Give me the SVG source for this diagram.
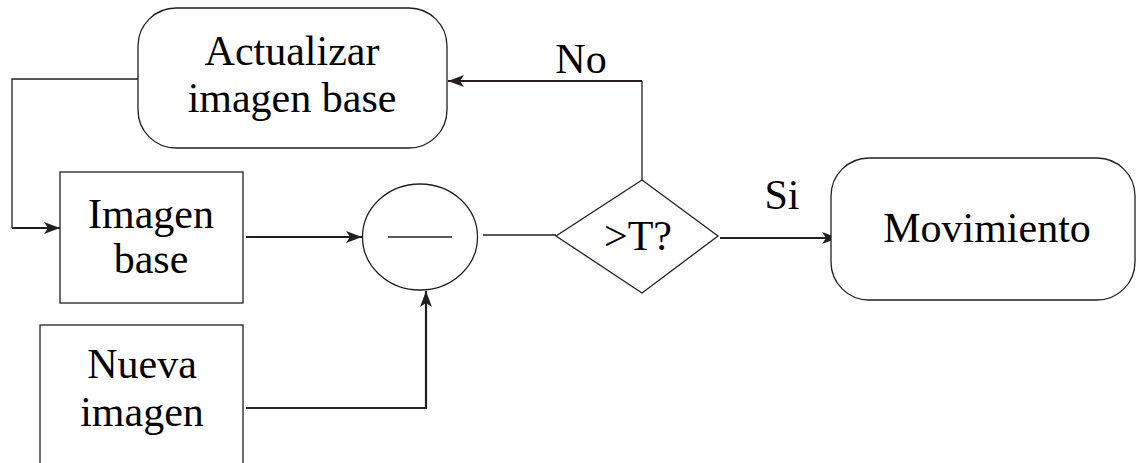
<svg xmlns="http://www.w3.org/2000/svg" width="1136" height="463" viewBox="0 0 1136 463">
<style>
.box{fill:#fff;stroke:#231f20;stroke-width:1.3}
.t{font-family:"Liberation Serif","Times New Roman",serif;font-size:42px;fill:#000;text-anchor:middle}
.c{fill:none;stroke:#231f20;stroke-width:2.2}
.thin{fill:none;stroke:#231f20;stroke-width:1.3}
</style>
<defs>
<marker id="ah" viewBox="0 0 16 12" refX="16" refY="6" markerWidth="16" markerHeight="12" markerUnits="userSpaceOnUse" orient="auto">
<path d="M0,0 L16,6 L0,12 L4,6 Z" fill="#231f20"/>
</marker>
</defs>
<g id="connectors">
<path class="thin" d="M138,79 H12 V228"/>
<path class="c" d="M12,228 H60" marker-end="url(#ah)"/>
<path class="c" d="M246,237 H362" marker-end="url(#ah)"/>
<path class="c" d="M246,408 H426 V291" marker-end="url(#ah)"/>
<path class="thin" d="M483,235 H556"/>
<path class="thin" d="M642,180 V81"/>
<path class="c" d="M642,81 H448" marker-end="url(#ah)"/>
<path class="c" d="M720,238 H838" marker-end="url(#ah)"/>
<text class="t" x="581" y="73">No</text>
<text class="t" x="782" y="209">Si</text>
</g>
<g id="actualizar">
<rect class="box" x="138" y="8" width="309" height="140" rx="38" ry="38"/>
<text class="t" x="292" y="65">Actualizar</text>
<text class="t" x="292" y="112">imagen base</text>
</g>
<g id="imagen-base">
<rect class="box" x="60" y="172" width="183" height="131"/>
<text class="t" x="151" y="228">Imagen</text>
<text class="t" x="151" y="273">base</text>
</g>
<g id="nueva-imagen">
<rect class="box" x="40" y="325" width="203" height="140"/>
<text class="t" x="142" y="378">Nueva</text>
<text class="t" x="142" y="426">imagen</text>
</g>
<g id="resta">
<ellipse class="box" cx="420" cy="237" rx="57.5" ry="53"/>
<line class="thin" x1="388" y1="237" x2="452" y2="237"/>
</g>
<g id="decision">
<polygon class="box" points="642,180 718,236 642,293 556,236"/>
<text class="t" x="638" y="250">&gt;T?</text>
</g>
<g id="movimiento">
<rect class="box" x="831" y="158" width="304" height="142" rx="38" ry="38"/>
<text class="t" x="987" y="242">Movimiento</text>
</g>
</svg>
